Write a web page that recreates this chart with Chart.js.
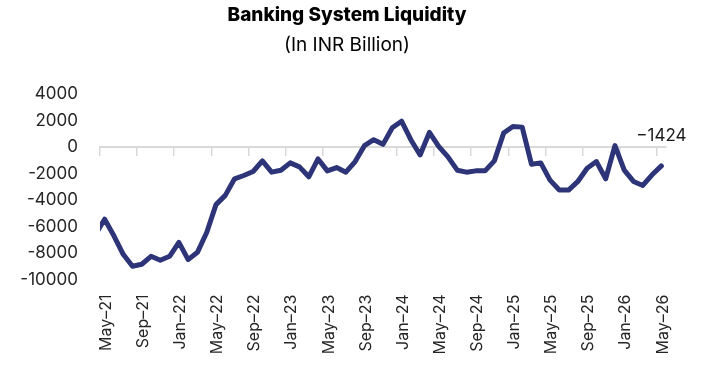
<!DOCTYPE html>
<html>
<head>
<meta charset="utf-8">
<script src="https://cdn.jsdelivr.net/npm/chart.js@4.4.1/dist/chart.umd.min.js"></script>
<style>
  html, body { margin: 0; padding: 0; background: #fff; }
  #wrap { width: 704px; height: 366px; position: relative; }
</style>
</head>
<body>
<div id="wrap"><canvas id="canvas"></canvas></div>
<script>
// monthly liquidity, Apr-21 .. May-26 (INR bn)
var months = ['Apr-21','May-21','Jun-21','Jul-21','Aug-21','Sep-21','Oct-21','Nov-21','Dec-21',
    'Jan-22','Feb-22','Mar-22','Apr-22','May-22','Jun-22','Jul-22','Aug-22','Sep-22','Oct-22','Nov-22','Dec-22',
    'Jan-23','Feb-23','Mar-23','Apr-23','May-23','Jun-23','Jul-23','Aug-23','Sep-23','Oct-23','Nov-23','Dec-23',
    'Jan-24','Feb-24','Mar-24','Apr-24','May-24','Jun-24','Jul-24','Aug-24','Sep-24','Oct-24','Nov-24','Dec-24',
    'Jan-25','Feb-25','Mar-25','Apr-25','May-25','Jun-25','Jul-25','Aug-25','Sep-25','Oct-25','Nov-25','Dec-25',
    'Jan-26','Feb-26','Mar-26','Apr-26','May-26'];
var liquidity = [-6600, -5450, -6700, -8100, -9000, -8850, -8250, -8550, -8250,
    -7200, -8500, -7950, -6450, -4350, -3650, -2400, -2150, -1850, -1050, -1900, -1750,
    -1200, -1500, -2250, -900, -1800, -1550, -1900, -1100, 100, 550, 200, 1450,
    1950, 550, -600, 1100, 50, -750, -1750, -1900, -1800, -1800, -1050, 1050,
    1550, 1500, -1300, -1200, -2500, -3250, -3250, -2600, -1600, -1100, -2400, 100,
    -1750, -2600, -2900, -2100, -1424];
var xTickLabels = ['May–21','Sep–21','Jan–22','May–22','Sep–22','Jan–23','May–23','Sep–23',
    'Jan–24','May–24','Sep–24','Jan–25','May–25','Sep–25','Jan–26','May–26'];
var yTicks = [4000, 2000, 0, -2000, -4000, -6000, -8000, -10000];
var lastLabel = '−1424';

var FONT = 'Inter';
var navy = 'rgb(46, 52, 120)';
var axisGrey = '#d9d9d9';

// points sit in the middle of their month slot; slot 0 = May-21
var points = [];
months.forEach(function(m, i) {
    points.push({x: i - 1 + 0.5, y: liquidity[i]});
});

var lastValuePlugin = {
    id: 'lastValue',
    afterDatasetsDraw: function(chart) {
        var meta = chart.getDatasetMeta(0);
        var pt = meta.data[meta.data.length - 1];
        var ctx = chart.ctx;
        ctx.save();
        ctx.font = '17px ' + FONT;
        ctx.fillStyle = '#1a1a1a';
        ctx.textAlign = 'center';
        ctx.textBaseline = 'alphabetic';
        ctx.fillText(lastLabel, pt.x, pt.y - 25);
        ctx.restore();
    }
};

var config = {
    type: 'line',
    data: {
        datasets: [{
            label: 'Banking System Liquidity',
            data: points,
            borderColor: navy,
            borderWidth: 5,
            borderJoinStyle: 'round',
            borderCapStyle: 'round',
            pointRadius: 0,
            tension: 0,
            fill: false,
            clip: {left: 0, right: 6, top: 6, bottom: 6}
        }]
    },
    options: {
        responsive: true,
        maintainAspectRatio: false,
        animation: false,
        layout: {
            padding: {left: 0, right: 10, top: 0, bottom: 0}
        },
        scales: {
            x: {
                type: 'linear',
                min: 0,
                max: 61,
                grid: {display: false, drawTicks: false},
                border: {display: false},
                ticks: {
                    stepSize: 4,
                    includeBounds: false,
                    autoSkip: false,
                    minRotation: 90,
                    maxRotation: 90,
                    padding: 15,
                    labelOffset: 6,
                    color: '#262626',
                    font: {family: FONT, size: 16},
                    callback: function(v) { return xTickLabels[v / 4]; }
                },
                afterFit: function(scale) { scale.height = 86.5; }
            },
            x2: {
                type: 'linear',
                position: {y: 0},
                min: 0,
                max: 61,
                grid: {drawOnChartArea: false, drawTicks: true, tickLength: 8, color: axisGrey, lineWidth: 1.5},
                border: {display: true, color: axisGrey, width: 2},
                ticks: {stepSize: 4, includeBounds: false, display: false}
            },
            y: {
                type: 'linear',
                min: -10000,
                max: 4000,
                grid: {display: false, drawTicks: false},
                border: {display: false},
                afterBuildTicks: function(scale) {
                    scale.ticks = yTicks.map(function(v) { return {value: v}; });
                },
                ticks: {
                    padding: 22,
                    color: '#262626',
                    font: {family: FONT, size: 17},
                    callback: function(v) { return String(v); }
                },
                afterFit: function(scale) { scale.width = 100; }
            },
            // empty right-hand gutter, keeps the title centred on the page
            y2: {
                type: 'linear',
                position: 'right',
                min: -10000,
                max: 4000,
                grid: {display: false, drawTicks: false},
                border: {display: false},
                ticks: {display: false},
                afterFit: function(scale) { scale.width = 28; }
            }
        },
        plugins: {
            legend: {display: false},
            tooltip: {enabled: false},
            title: {
                display: true,
                text: 'Banking System Liquidity',
                color: '#000',
                font: {family: FONT, size: 19, weight: 800, lineHeight: 1.2},
                padding: {top: 3.6, bottom: 7}
            },
            subtitle: {
                display: true,
                text: '(In INR Billion)',
                color: '#000',
                font: {family: FONT, size: 19, lineHeight: 1.2},
                padding: {top: 0.8, bottom: 37}
            }
        }
    },
    plugins: [lastValuePlugin]
};

window.onload = function() {
    var ctx = document.getElementById('canvas').getContext('2d');
    window.myLine = new Chart(ctx, config);
};
</script>
</body>
</html>
